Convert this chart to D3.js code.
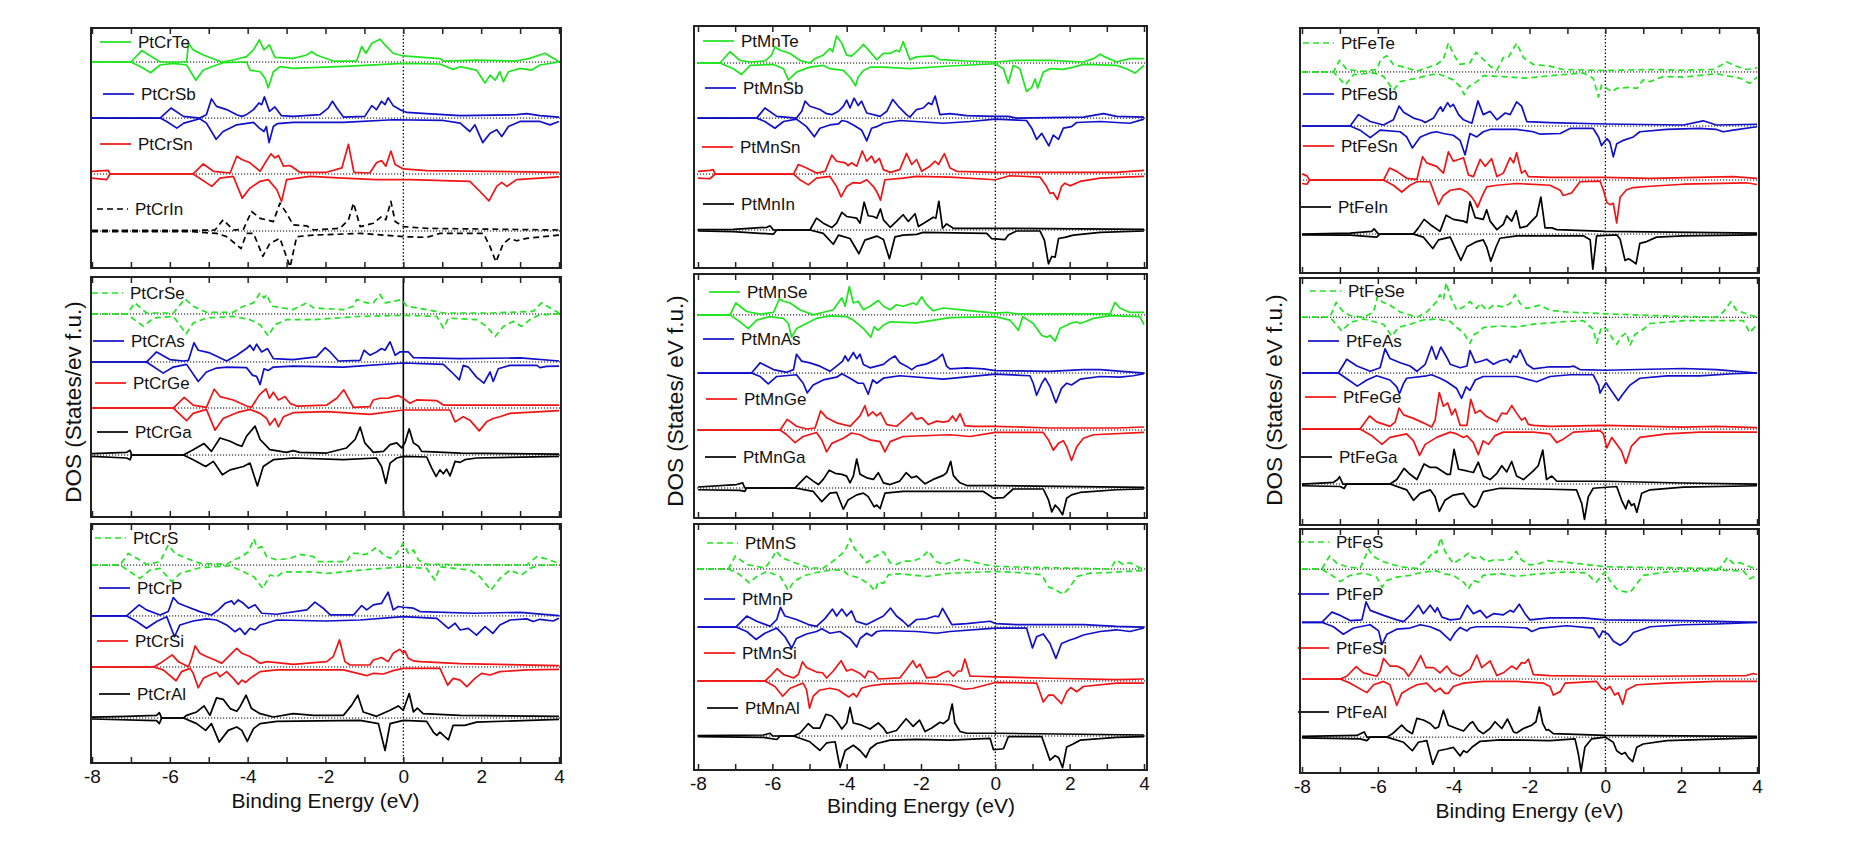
<!DOCTYPE html>
<html>
<head>
<meta charset="utf-8">
<script src="https://cdn.jsdelivr.net/npm/d3@7"></script>
<style>
  body { margin: 0; background: #fff; }
  svg text { font-family: Arial, "Liberation Sans", sans-serif; fill: #111; }
</style>
</head>
<body>
<div id="chart"></div>
<script>
// Spin-resolved DOS, [energy (eV), DOS] pairs; spin down stored as negative values

// ---- PtCr column ----
const ptCrTeUp = [[-8,0],[-7,0],[-6.72,0.81],[-6.25,0],[-5.57,0],[-5.52,1.33],[-5.40,0.86],[-5.14,0.5],[-4.80,0.14],[-4.67,0],[-4.37,0.14],[-4.03,0.38],[-3.85,0.86],[-3.70,1.57],[-3.58,0.86],[-3.44,1.21],[-3.30,0.33],[-2.83,0.26],[-2.48,0.5],[-2.36,0.74],[-2.23,0.5],[-1.80,0.07],[-1.20,0.07],[-1.07,1.1],[-0.96,0.62],[-0.81,1.33],[-0.60,1.62],[-0.47,1.21],[-0.26,0.62],[0,0.43],[0.94,0.24],[1.03,0.07],[1.88,0.14],[2.91,0.07],[3.25,0.26],[3.64,0.62],[4,0.02]];
const ptCrTeDn = [[-8,0],[-7,0],[-6.75,-0.33],[-6.49,-0.76],[-6.25,-0.21],[-5.91,-0.1],[-5.57,-0.21],[-5.33,-1.29],[-5.14,-0.57],[-4.80,-0.21],[-4.63,-0.05],[-4.03,0],[-3.94,-0.57],[-3.68,-0.69],[-3.55,-1.17],[-3.47,-1.83],[-3.34,-0.69],[-3.17,-0.33],[-2.83,-0.45],[-1.37,-0.29],[0,-0.1],[0.94,-0.14],[1.28,-0.52],[1.46,-0.33],[1.88,-0.57],[2.10,-1.48],[2.23,-0.93],[2.36,-1.29],[2.48,-0.69],[2.57,-1.4],[2.70,-0.69],[3.0,-0.45],[3.30,-0.57],[3.51,-0.21],[4,0]];
const ptCrSbUp = [[-8,0],[-6.25,0],[-5.97,0.71],[-5.65,0.12],[-5.23,0],[-5.06,0.24],[-4.93,1.36],[-4.80,0.83],[-4.54,0.6],[-4.28,0.24],[-4.15,0.12],[-4.03,0.24],[-3.85,0.6],[-3.71,1.07],[-3.64,0.95],[-3.57,1.5],[-3.44,0.48],[-3.30,0.79],[-3.13,0.17],[-2.83,0.12],[-2.14,0.24],[-1.93,0.71],[-1.82,1.19],[-1.71,0.71],[-1.54,0.07],[-0.99,0.12],[-0.81,0.88],[-0.69,0.6],[-0.56,1.19],[-0.47,0.95],[-0.39,1.43],[-0.26,0.88],[-0.09,0.6],[0.09,0.4],[0.6,0.31],[1.46,0.17],[2.91,0.24],[3.17,0.31],[3.51,0.17],[4,0.07]];
const ptCrSbDn = [[-8,0],[-6.25,0],[-6.08,-0.24],[-5.82,-0.71],[-5.64,-0.36],[-5.23,-0.05],[-5.06,-0.36],[-4.81,-1.5],[-4.63,-0.95],[-4.28,-0.48],[-3.85,-0.31],[-3.70,-0.71],[-3.58,-0.95],[-3.52,-0.6],[-3.45,-1.74],[-3.34,-0.6],[-3.24,-0.4],[-2.83,-0.31],[-1.54,-0.31],[-0.26,-0.12],[1.03,-0.17],[1.46,-0.36],[1.71,-0.95],[1.84,-0.48],[2.04,-1.74],[2.23,-1.07],[2.40,-0.83],[2.53,-1.31],[2.70,-0.6],[3.0,-0.24],[3.51,-0.24],[3.77,-0.48],[4,-0.24]];
const ptCrSnUp = [[-8,0.19],[-7.58,0.26],[-7.54,0],[-5.40,0],[-5.14,0.71],[-4.88,0.19],[-4.45,0.07],[-4.28,1.26],[-4.15,1.02],[-3.94,0.79],[-3.68,0.19],[-3.55,0.79],[-3.40,1.43],[-3.30,1.14],[-3.21,1.31],[-3.08,0.55],[-2.91,0.6],[-2.66,0.12],[-1.97,0.12],[-1.58,0.43],[-1.41,2.1],[-1.27,0.12],[-0.86,0.07],[-0.69,0.79],[-0.56,0.95],[-0.45,0.55],[-0.32,1.62],[-0.21,0.67],[0,0.36],[0.6,0.24],[4,0.12]];
const ptCrSnDn = [[-8,-0.29],[-7.62,-0.4],[-7.54,0],[-5.40,0],[-4.92,-0.88],[-4.71,-0.29],[-4.37,-0.17],[-4.14,-1.71],[-3.94,-1.0],[-3.68,-0.52],[-3.47,-0.4],[-3.25,-1.12],[-3.13,-1.95],[-3.0,-0.4],[-2.40,-0.17],[-1.54,-0.29],[-0.69,-0.4],[0.17,-0.4],[1.71,-0.52],[1.97,-1.24],[2.2,-1.9],[2.40,-0.88],[2.53,-0.6],[2.66,-0.88],[2.91,-0.4],[4,-0.21]];
const ptCrInUp = [[-8,0.05],[-5.4,0.05],[-4.84,0.07],[-4.63,0.79],[-4.37,0.07],[-4.11,0.12],[-3.90,1.38],[-3.68,0.9],[-3.34,0.67],[-3.17,1.98],[-3.0,1.26],[-2.83,0.43],[-2.48,0.36],[-2.31,0.07],[-1.63,0.19],[-1.41,0.79],[-1.28,1.98],[-1.11,0.31],[-0.77,0.55],[-0.56,1.02],[-0.45,0.79],[-0.32,2.1],[-0.21,0.67],[0,0.31],[0.6,0.19],[4,0.07]];
const ptCrInDn = [[-8,-0.05],[-5.4,-0.05],[-4.8,-0.17],[-4.54,-0.4],[-4.17,-1.24],[-4.03,-0.17],[-3.85,-0.17],[-3.61,-1.79],[-3.43,-0.88],[-3.17,-0.52],[-2.91,-2.55],[-2.74,-0.4],[-2.31,-0.29],[-1.11,-0.17],[0,-0.4],[0.6,-0.45],[0.94,-0.17],[2.06,-0.17],[2.23,-1.12],[2.38,-2.19],[2.57,-0.88],[2.74,-0.52],[2.91,-0.69],[3.17,-0.52],[4,-0.29]];

const ptCrSeUp = [[-8,0],[-7.1,0],[-6.9,0.79],[-6.6,0.07],[-5.91,0.07],[-5.61,1.07],[-5.40,0.55],[-5.06,0.12],[-4.37,0.12],[-4.15,0.5],[-3.85,0.79],[-3.68,1.5],[-3.58,1.14],[-3.51,1.38],[-3.38,0.55],[-2.83,0.31],[-2.48,0.79],[-2.31,0.43],[-1.54,0.31],[-1.28,0.55],[-1.2,1.02],[-0.94,0.79],[-0.77,0.79],[-0.6,1.38],[-0.47,0.79],[-0.26,0.9],[-0.04,1.02],[0.09,0.55],[0.6,0.31],[1.03,0.07],[2.31,0.07],[3.34,0.19],[3.55,0.79],[3.77,0.43],[4,0.07]];
const ptCrSeDn = [[-8,0],[-7.1,0],[-6.68,-0.88],[-6.42,-0.29],[-5.91,-0.17],[-5.58,-1.4],[-5.40,-0.64],[-5.06,-0.29],[-4.37,-0.17],[-3.94,-0.4],[-3.68,-0.76],[-3.47,-1.55],[-3.30,-0.76],[-3.0,-0.4],[-2.31,-0.4],[-1.11,-0.17],[0,-0.1],[0.86,-0.17],[1.03,-1.0],[1.16,-0.29],[1.88,-0.4],[2.14,-0.88],[2.36,-1.6],[2.57,-0.88],[2.83,-0.52],[3.04,-0.88],[3.25,-0.4],[3.51,-0.05],[4,0]];
const ptCrAsUp = [[-8,0],[-6.6,0],[-6.34,0.71],[-6.0,0.17],[-5.65,0.07],[-5.52,0.12],[-5.38,1.36],[-5.27,0.83],[-4.97,0.64],[-4.54,0.07],[-4.28,0.48],[-4.03,0.95],[-3.94,1.19],[-3.85,0.83],[-3.77,1.26],[-3.64,0.71],[-3.49,0.95],[-3.34,0.24],[-2.83,0.17],[-2.23,0.36],[-2.01,1.02],[-1.88,0.71],[-1.67,0.07],[-1.11,0.12],[-1.01,0.83],[-0.86,0.48],[-0.69,0.71],[-0.56,0.95],[-0.47,0.83],[-0.34,1.43],[-0.21,0.48],[-0.09,0.71],[0.13,0.71],[0.26,0.31],[1.46,0.24],[3.0,0.29],[4,0.07]];
const ptCrAsDn = [[-8,0],[-6.6,0],[-6.17,-0.79],[-5.91,-0.36],[-5.57,-0.17],[-5.27,-1.38],[-5.06,-0.71],[-4.8,-0.43],[-4.54,-0.36],[-4.03,-0.4],[-3.87,-0.95],[-3.77,-1.02],[-3.68,-1.6],[-3.58,-0.48],[-3.47,-0.6],[-3.34,-0.36],[-2.83,-0.29],[-1.54,-0.36],[0,-0.07],[1.03,-0.17],[1.24,-0.71],[1.44,-1.26],[1.54,-0.24],[1.67,-0.36],[1.88,-1.07],[2.07,-1.5],[2.23,-0.71],[2.31,-1.38],[2.44,-0.48],[2.74,-0.24],[3.43,-0.24],[3.51,-0.4],[3.68,-0.31],[4,-0.29]];
const ptCrGeUp = [[-8,0],[-5.91,0],[-5.63,0.76],[-5.40,0.21],[-5.06,0.05],[-4.86,1.33],[-4.71,0.81],[-4.37,0.57],[-4.03,0.14],[-3.90,0.05],[-3.70,0.93],[-3.53,1.36],[-3.44,0.69],[-3.34,1.12],[-3.21,0.57],[-3.04,0.81],[-2.91,0.33],[-2.74,0.14],[-1.97,0.21],[-1.71,0.69],[-1.53,1.29],[-1.28,0.05],[-0.86,0.1],[-0.77,0.57],[-0.6,0.69],[-0.39,0.69],[-0.26,0.81],[-0.13,0.88],[0,0.69],[0.17,0.33],[0.34,0.57],[0.86,0.52],[1.03,0.21],[4,0.21]];
const ptCrGeDn = [[-8,0],[-5.91,0],[-5.57,-0.9],[-5.40,-0.38],[-5.06,-0.1],[-4.84,-1.57],[-4.63,-0.74],[-4.28,-0.33],[-3.94,-0.1],[-3.68,-0.38],[-3.51,-0.74],[-3.43,-1.21],[-3.30,-0.74],[-3.21,-1.33],[-3.08,-0.62],[-2.83,-0.33],[-1.97,-0.26],[-0.86,-0.45],[0,-0.14],[1.2,-0.14],[1.33,-0.98],[1.54,-0.62],[1.71,-0.86],[1.95,-1.62],[2.14,-0.98],[2.31,-0.74],[2.48,-0.62],[2.74,-0.38],[4,-0.19]];
const ptCrGaUp = [[-8,0.1],[-7.11,0.19],[-7.02,0.33],[-6.98,0],[-5.65,0],[-5.40,0.38],[-5.12,0.81],[-4.93,0.26],[-4.71,1.21],[-4.45,0.98],[-4.28,0.74],[-4.15,0.62],[-4.03,1.33],[-3.81,2.05],[-3.68,1.1],[-3.43,0.38],[-3.0,0.19],[-2.83,0.31],[-2.66,0.19],[-1.97,0.14],[-1.46,0.5],[-1.24,1.1],[-1.11,1.98],[-0.99,0.86],[-0.77,0.19],[-0.51,0.26],[-0.34,0.74],[-0.17,0.86],[-0.04,0.5],[0.04,0.86],[0.15,1.86],[0.26,0.86],[0.39,0.62],[0.47,0.26],[1.46,0.14],[4,0.07]];
const ptCrGaDn = [[-8,-0.1],[-7.11,-0.21],[-7.02,-0.33],[-6.98,0],[-5.65,0],[-5.40,-0.33],[-5.08,-0.81],[-4.88,-0.45],[-4.65,-1.4],[-4.45,-1.05],[-4.11,-0.81],[-3.94,-0.57],[-3.75,-2.19],[-3.60,-0.81],[-3.34,-0.33],[-2.83,-0.21],[-1.54,-0.33],[-0.69,-0.21],[-0.56,-0.81],[-0.45,-2.0],[-0.34,-0.57],[-0.17,-0.21],[0,-0.1],[0.6,-0.14],[0.73,-0.93],[0.84,-1.52],[0.94,-1.05],[1.03,-1.33],[1.11,-1.0],[1.2,-1.48],[1.33,-0.45],[1.46,-0.52],[1.58,-0.33],[1.88,-0.21],[4,-0.1]];

const ptCrSUp = [[-8,0],[-7.28,0],[-7.07,0.83],[-6.85,0.48],[-6.6,0.05],[-6.25,0.24],[-6.04,1.43],[-5.87,0.83],[-5.57,0.48],[-5.23,0.12],[-4.54,0.05],[-4.37,0.36],[-4.15,0.6],[-3.98,0.95],[-3.84,1.86],[-3.75,1.19],[-3.64,1.31],[-3.51,0.6],[-3.25,0.36],[-2.91,0.48],[-2.66,0.76],[-2.31,0.6],[-2.18,0.24],[-1.46,0.24],[-1.33,0.83],[-1.16,0.83],[-1.07,0.71],[-0.9,0.83],[-0.69,1.26],[-0.51,0.71],[-0.34,0.48],[-0.17,0.83],[0,1.55],[0.13,0.83],[0.26,1.07],[0.39,0.36],[0.6,0.05],[3.17,0],[3.43,0.6],[3.68,0.43],[4,0.12]];
const ptCrSDn = [[-8,0],[-7.28,0],[-6.77,-0.95],[-6.51,-0.36],[-6.25,-0.24],[-5.95,-1.19],[-5.74,-0.6],[-5.23,-0.19],[-4.45,-0.05],[-4.11,-0.48],[-3.84,-0.83],[-3.61,-1.67],[-3.43,-0.71],[-3.25,-0.83],[-3.08,-0.48],[-2.40,-0.48],[-1.97,-0.6],[-1.11,-0.36],[0,-0.12],[0.6,-0.24],[0.81,-1.07],[0.94,-0.12],[1.71,-0.36],[1.97,-0.83],[2.25,-1.79],[2.48,-0.95],[2.74,-0.36],[3.04,-0.71],[3.25,-0.24],[3.51,0],[4,0]];
const ptCrPUp = [[-8,0],[-7.11,0],[-6.79,0.79],[-6.6,0.43],[-6.25,0.07],[-6.04,0.31],[-5.91,1.31],[-5.78,0.9],[-5.57,0.67],[-5.23,0.31],[-4.93,0.07],[-4.75,0.43],[-4.58,0.9],[-4.41,1.07],[-4.35,0.83],[-4.24,1.14],[-4.11,0.9],[-3.98,0.55],[-3.81,0.79],[-3.64,0.19],[-3.25,0.12],[-2.48,0.43],[-2.27,0.98],[-2.06,0.55],[-1.88,0.07],[-1.28,0.07],[-1.07,0.74],[-0.94,0.43],[-0.77,0.79],[-0.56,0.9],[-0.39,1.69],[-0.26,0.43],[-0.13,0.67],[0,0.62],[0.26,0.55],[0.43,0.31],[1.8,0.19],[3.0,0.26],[4,0.02]];
const ptCrPDn = [[-8,0],[-7.11,0],[-6.85,-0.4],[-6.6,-0.88],[-6.34,-0.4],[-6.08,-0.05],[-5.88,-1.48],[-5.74,-0.64],[-5.40,-0.36],[-5.06,-0.21],[-4.80,-0.29],[-4.54,-0.64],[-4.33,-1.12],[-4.20,-0.88],[-4.07,-1.31],[-3.94,-0.88],[-3.81,-1.0],[-3.68,-0.64],[-3.25,-0.29],[-1.97,-0.36],[-1.11,-0.29],[0,-0.05],[0.86,-0.17],[1.16,-0.88],[1.33,-0.52],[1.46,-1.0],[1.67,-0.88],[1.88,-1.36],[2.10,-0.76],[2.30,-1.24],[2.48,-0.64],[2.74,-0.29],[3.17,-0.21],[3.34,-0.4],[3.51,-0.24],[3.85,-0.36],[4,-0.17]];
const ptCrSiUp = [[-8,0],[-6.42,0],[-6.25,0.26],[-5.94,0.86],[-5.78,0.38],[-5.52,0.02],[-5.44,0.62],[-5.35,1.5],[-5.23,0.98],[-5.06,0.74],[-4.84,0.5],[-4.67,0.26],[-4.45,0.86],[-4.28,1.33],[-4.15,0.98],[-3.94,0.74],[-3.68,0.26],[-3.51,0.38],[-3.25,0.31],[-2.83,0.19],[-1.97,0.38],[-1.80,0.74],[-1.64,1.93],[-1.50,0.38],[-1.37,0.14],[-0.86,0.14],[-0.77,0.5],[-0.56,0.67],[-0.39,0.38],[-0.26,0.98],[-0.09,1.26],[0,0.98],[0.04,1.14],[0.13,0.62],[0.26,0.43],[0.43,0.38],[1.46,0.24],[4,0.1]];
const ptCrSiDn = [[-8,0],[-6.42,0],[-6.17,-0.21],[-5.84,-0.98],[-5.70,-0.33],[-5.48,-0.1],[-5.40,-0.45],[-5.27,-1.48],[-5.14,-0.81],[-4.97,-0.57],[-4.80,-0.38],[-4.71,-0.69],[-4.54,-0.33],[-4.37,-0.81],[-4.24,-1.24],[-4.15,-0.93],[-4.05,-1.1],[-3.94,-0.81],[-3.68,-0.33],[-3.25,-0.21],[-1.54,-0.21],[-0.94,-0.62],[-0.77,-0.45],[-0.51,-0.5],[-0.26,-0.26],[0,-0.1],[0.94,-0.1],[1.14,-1.29],[1.28,-0.81],[1.46,-0.93],[1.63,-1.4],[1.84,-0.81],[2.01,-0.45],[2.23,-0.57],[2.48,-0.33],[3.17,-0.21],[4,-0.17]];
const ptCrAlUp = [[-8,0.07],[-7.11,0.12],[-6.34,0.19],[-6.27,0.38],[-6.21,0],[-5.65,0],[-5.57,0.19],[-5.31,0.43],[-5.12,0.86],[-4.97,0.19],[-4.80,1.43],[-4.63,1.33],[-4.45,0.67],[-4.28,0.48],[-4.20,0.79],[-4.04,1.62],[-3.90,0.67],[-3.68,0.31],[-3.34,0.07],[-2.83,0.31],[-2.31,0.19],[-1.54,0.19],[-1.33,0.9],[-1.17,1.62],[-1.03,0.43],[-0.69,0.12],[-0.34,0.55],[-0.13,0.86],[0,0.55],[0.15,1.74],[0.26,0.43],[0.36,0.71],[0.51,0.31],[1.46,0.19],[4,0.12]];
const ptCrAlDn = [[-8,-0.07],[-6.34,-0.19],[-6.27,-0.4],[-6.21,0],[-5.65,0],[-5.31,-0.4],[-5.08,-0.88],[-4.93,-0.4],[-4.73,-1.71],[-4.50,-0.88],[-4.28,-0.64],[-4.15,-0.88],[-4.01,-1.67],[-3.85,-0.76],[-3.68,-0.4],[-3.25,-0.24],[-1.11,-0.17],[-0.64,-0.4],[-0.47,-2.31],[-0.34,-0.4],[0,-0.17],[0.6,-0.24],[0.77,-1.0],[0.86,-1.24],[0.94,-1.0],[1.03,-1.24],[1.16,-1.55],[1.28,-0.52],[1.58,-0.52],[1.88,-0.29],[4,-0.1]];

// ---- PtMn column ----
const ptMnTeUp = [[-8,0],[-7.41,0],[-7.14,0.79],[-6.87,0.19],[-6.60,0.07],[-6.20,0.14],[-6.02,0.55],[-5.93,1.14],[-5.79,0.9],[-5.52,0.67],[-5.26,0.19],[-4.99,0],[-4.85,0.31],[-4.63,0.55],[-4.45,1.02],[-4.38,0.79],[-4.27,1.9],[-4.13,1.38],[-4.0,0.55],[-3.87,0.48],[-3.69,0.9],[-3.55,1.31],[-3.37,0.79],[-3.19,0.24],[-3.01,0.67],[-2.83,0.67],[-2.66,0.9],[-2.58,0.79],[-2.48,1.5],[-2.30,0.24],[-2.12,0.43],[-1.67,0.5],[-1.49,0.24],[-0.77,0.14],[0,0.07],[0.57,0.19],[1.47,0.19],[2.37,0.07],[2.64,0.31],[2.82,0.62],[2.95,0.43],[3.26,0.07],[3.62,0.31],[4,0.31]];
const ptMnTeDn = [[-8,0],[-7.41,0],[-7.05,-0.4],[-6.83,-0.81],[-6.60,-0.17],[-5.97,-0.1],[-5.70,-0.4],[-5.57,-1.19],[-5.35,-0.64],[-4.99,-0.29],[-4.63,-0.17],[-4.45,-0.4],[-4.09,-0.52],[-3.91,-1.0],[-3.76,-1.6],[-3.69,-1.0],[-3.55,-0.52],[-3.37,-0.29],[-3.01,-0.29],[-2.30,-0.4],[-1.22,-0.21],[0,-0.05],[0.22,-0.4],[0.35,-1.43],[0.48,-0.17],[0.66,-0.4],[0.84,-2.0],[0.98,-1.71],[1.07,-1.12],[1.14,-1.76],[1.29,-0.64],[1.47,-0.4],[1.83,-0.45],[2.10,-0.29],[2.37,-0.1],[3.26,-0.17],[3.53,-0.4],[3.76,-0.71],[4,-0.17]];
const ptMnSbUp = [[-8,0],[-6.42,0],[-6.20,0.71],[-5.88,0.12],[-5.35,0],[-5.21,0.48],[-5.12,1.19],[-4.99,0.83],[-4.72,0.6],[-4.54,0.31],[-4.40,0.24],[-4.22,0.48],[-4.09,0.83],[-4.0,1.26],[-3.91,0.71],[-3.80,1.4],[-3.69,0.88],[-3.60,1.19],[-3.46,0.36],[-3.10,0.12],[-2.92,0.48],[-2.76,1.31],[-2.61,0.83],[-2.39,0.24],[-2.30,0.07],[-2.12,0.6],[-1.94,0.71],[-1.80,1.07],[-1.71,0.95],[-1.62,1.55],[-1.49,0.24],[-1.22,0.31],[-0.77,0.17],[0,0.12],[0.35,0.12],[0.57,0],[2.37,0.07],[2.91,0.31],[3.26,0.12],[4,0.07]];
const ptMnSbDn = [[-8,0],[-6.42,0],[-6.20,-0.24],[-5.93,-0.71],[-5.70,-0.24],[-5.35,-0.07],[-5.08,-0.6],[-4.87,-1.31],[-4.72,-0.71],[-4.45,-0.48],[-4.22,-0.4],[-4.13,-0.17],[-4.0,-0.24],[-3.82,-0.48],[-3.60,-0.83],[-3.46,-1.6],[-3.33,-0.71],[-3.19,-0.6],[-3.01,-0.36],[-2.57,-0.17],[-1.40,-0.36],[-0.68,-0.24],[0,-0.07],[0.84,-0.17],[0.98,-0.71],[1.11,-1.5],[1.25,-1.07],[1.44,-1.95],[1.56,-1.19],[1.70,-1.5],[1.83,-0.71],[2.05,-0.6],[2.19,-0.31],[2.82,-0.24],[3.26,-0.31],[3.62,-0.36],[4,-0.07]];
const ptMnSnUp = [[-8,0.19],[-7.68,0.26],[-7.59,0.31],[-7.54,0],[-5.43,0],[-5.30,0.67],[-5.08,0.43],[-4.81,0.07],[-4.58,0.19],[-4.40,1.33],[-4.27,0.9],[-4.04,0.79],[-3.96,0.6],[-3.87,0.79],[-3.73,0.55],[-3.58,1.62],[-3.46,0.9],[-3.33,1.26],[-3.24,0.79],[-3.12,1.1],[-3.01,0.31],[-2.83,0.12],[-2.57,0.31],[-2.39,1.45],[-2.25,0.67],[-2.12,1.02],[-1.98,0.19],[-1.76,0.55],[-1.62,0.9],[-1.53,0.67],[-1.37,1.43],[-1.22,0.43],[-1.04,0.19],[0,0.12],[3.26,0.12],[4,0.26]];
const ptMnSnDn = [[-8,-0.29],[-7.68,-0.33],[-7.54,0],[-5.43,0],[-5.26,-0.4],[-5.03,-0.76],[-4.81,-0.29],[-4.45,-0.17],[-4.27,-0.88],[-4.15,-1.6],[-4.0,-0.88],[-3.82,-0.6],[-3.64,-0.64],[-3.46,-0.4],[-3.28,-0.88],[-3.19,-1.24],[-3.09,-1.83],[-2.97,-0.4],[-2.48,-0.29],[-2.12,-0.17],[-1.22,-0.21],[0,-0.4],[0.39,-0.12],[1.20,-0.21],[1.38,-0.88],[1.47,-1.36],[1.56,-1.31],[1.67,-1.79],[1.78,-0.88],[1.87,-0.64],[2.01,-0.83],[2.28,-0.52],[2.82,-0.29],[4,-0.17]];
const ptMnInUp = [[-8,0.02],[-7.05,0.05],[-6.15,0.19],[-6.06,0.29],[-5.97,0],[-4.99,0],[-4.81,0.83],[-4.63,0.48],[-4.40,0.17],[-4.27,0.48],[-4.13,1.24],[-4.0,0.95],[-3.73,0.83],[-3.64,0.48],[-3.53,1.95],[-3.42,1.0],[-3.28,0.95],[-3.19,0.83],[-3.09,1.48],[-3.01,0.71],[-2.83,0.19],[-2.66,0.6],[-2.48,1.07],[-2.34,0.6],[-2.16,1.14],[-2.07,0.24],[-1.85,0.6],[-1.67,0.9],[-1.60,0.83],[-1.52,2.02],[-1.42,0.12],[-1.31,0.43],[-1.13,0.12],[0,0.12],[4,0.05]];
const ptMnInDn = [[-8,-0.07],[-7.05,-0.12],[-5.97,-0.29],[-5.88,0],[-4.99,0],[-4.63,-0.24],[-4.36,-1.0],[-4.22,-0.36],[-3.91,-0.6],[-3.67,-1.67],[-3.51,-0.71],[-3.19,-0.43],[-3.01,-0.67],[-2.85,-2.02],[-2.70,-0.48],[-2.48,-0.36],[-2.12,-0.31],[-1.94,-0.17],[-0.23,-0.24],[-0.10,-0.6],[0.26,-0.67],[0.35,-0.36],[0.57,-0.07],[1.20,-0.07],[1.32,-0.71],[1.43,-2.38],[1.52,-1.86],[1.61,-1.9],[1.70,-0.6],[1.87,-0.52],[2.10,-0.36],[2.82,-0.17],[4,-0.07]];

const ptMnSeUp = [[-8,0],[-7.14,0],[-6.98,0.83],[-6.69,0.24],[-6.33,0.05],[-5.97,0.17],[-5.81,1.12],[-5.70,0.95],[-5.52,0.83],[-5.26,0.36],[-4.90,0],[-4.54,0.24],[-4.36,0.36],[-4.13,1.19],[-4.04,0.6],[-3.93,1.98],[-3.82,0.83],[-3.69,0.95],[-3.55,0.36],[-3.37,0.6],[-3.15,1.0],[-3.01,0.6],[-2.83,0.36],[-2.66,0.71],[-2.48,0.6],[-2.21,0.83],[-2.12,0.71],[-1.98,1.26],[-1.85,0.71],[-1.67,0.29],[-1.40,0.48],[-0.77,0.31],[0,0.12],[0.35,0.17],[0.57,0.07],[3.09,0.07],[3.22,0.88],[3.35,0.48],[3.62,0.17],[4,0.17]];
const ptMnSeDn = [[-8,0],[-7.14,0],[-6.87,-0.48],[-6.65,-0.95],[-6.42,-0.36],[-6.06,-0.12],[-5.70,-0.24],[-5.57,-0.6],[-5.48,-1.55],[-5.35,-0.95],[-5.08,-0.6],[-4.81,-0.24],[-4.45,-0.07],[-4.0,-0.12],[-3.82,-0.36],[-3.55,-0.95],[-3.35,-1.55],[-3.26,-0.83],[-3.15,-1.07],[-3.01,-0.71],[-2.83,-0.48],[-2.12,-0.55],[-1.22,-0.19],[0,-0.12],[0.39,-0.36],[0.62,-1.07],[0.74,-0.12],[1.02,-0.6],[1.25,-1.43],[1.38,-1.55],[1.47,-1.43],[1.61,-1.83],[1.74,-0.95],[2.01,-0.6],[2.19,-0.48],[2.28,-0.6],[2.41,-0.48],[2.64,-0.24],[3.09,-0.05],[3.89,-0.12],[4,-0.67]];
const ptMnAsUp = [[-8,0],[-6.56,0],[-6.33,0.71],[-5.97,0.24],[-5.61,0.05],[-5.43,0.24],[-5.35,1.31],[-5.21,0.83],[-4.99,0.71],[-4.72,0.48],[-4.45,0.12],[-4.27,0.48],[-4.11,0.83],[-4.04,1.19],[-3.96,0.83],[-3.82,1.43],[-3.73,1.0],[-3.64,1.31],[-3.55,0.6],[-3.37,0.36],[-3.01,0.6],[-2.85,0.95],[-2.70,1.19],[-2.57,0.71],[-2.39,0.48],[-2.25,0.24],[-2.12,0.48],[-1.85,0.64],[-1.58,0.95],[-1.42,1.31],[-1.31,0.48],[-1.22,0.29],[-0.77,0.36],[-0.32,0.29],[0,0.17],[1.47,0.12],[2.37,0.24],[2.82,0.24],[4,0]];
const ptMnAsDn = [[-8,0],[-6.56,0],[-6.33,-0.24],[-6.11,-0.76],[-5.88,-0.24],[-5.35,-0.12],[-5.17,-0.71],[-5.06,-1.38],[-4.90,-0.83],[-4.63,-0.48],[-4.27,-0.29],[-4.13,-0.05],[-3.91,-0.36],[-3.69,-0.71],[-3.55,-0.71],[-3.42,-1.48],[-3.30,-0.48],[-3.19,-0.71],[-3.01,-0.36],[-2.57,-0.19],[-1.40,-0.43],[0,-0.07],[0.93,-0.19],[1.02,-0.71],[1.11,-1.55],[1.25,-0.71],[1.34,-0.36],[1.47,-0.95],[1.63,-2.07],[1.78,-1.07],[1.92,-0.71],[2.05,-0.83],[2.28,-0.43],[2.82,-0.24],[3.35,-0.29],[3.71,-0.19],[4,-0.05]];
const ptMnGeUp = [[-8,0],[-5.79,0],[-5.60,0.74],[-5.35,0.26],[-5.08,0.07],[-4.85,0.14],[-4.70,1.33],[-4.54,0.86],[-4.27,0.5],[-3.91,0.26],[-3.64,0.98],[-3.51,1.69],[-3.42,0.98],[-3.30,1.26],[-3.19,0.98],[-3.09,1.21],[-2.92,0.38],[-2.66,0.26],[-2.39,0.86],[-2.25,1.21],[-2.12,0.74],[-1.98,0.86],[-1.80,0.38],[-1.58,0.62],[-1.40,0.55],[-1.26,0.62],[-1.15,0.98],[-1.06,0.62],[-0.95,1.14],[-0.82,0.31],[-0.59,0.26],[0,0.26],[1.47,0.14],[3.26,0.14],[4,0.21]];
const ptMnGeDn = [[-8,0],[-5.79,0],[-5.61,-0.33],[-5.39,-0.88],[-5.17,-0.45],[-4.81,-0.17],[-4.67,-0.69],[-4.54,-1.52],[-4.40,-0.93],[-4.09,-0.57],[-3.87,-0.21],[-3.64,-0.33],[-3.37,-0.69],[-3.10,-0.81],[-2.97,-1.52],[-2.83,-0.81],[-2.48,-0.45],[-1.22,-0.33],[-0.68,-0.45],[0,-0.17],[1.29,-0.17],[1.43,-0.69],[1.56,-1.4],[1.70,-0.93],[1.83,-0.74],[1.92,-1.17],[2.05,-2.12],[2.19,-1.17],[2.37,-0.57],[2.64,-0.33],[4,-0.17]];
const ptMnGaUp = [[-8,0.07],[-6.96,0.24],[-6.80,0.36],[-6.74,0],[-5.39,0],[-5.26,0.36],[-5.08,0.83],[-4.90,0.48],[-4.76,0.24],[-4.63,0.6],[-4.47,1.24],[-4.31,1.02],[-4.13,0.95],[-4.0,0.83],[-3.91,0.36],[-3.82,0.83],[-3.73,2.02],[-3.64,0.95],[-3.46,0.71],[-3.28,0.6],[-3.15,1.07],[-3.01,0.36],[-2.83,0.24],[-2.57,0.48],[-2.40,1.07],[-2.25,0.71],[-2.12,0.83],[-1.89,0.29],[-1.67,0.6],[-1.40,0.88],[-1.31,1.07],[-1.20,1.86],[-1.13,0.88],[-1.04,0.6],[-0.95,0.36],[-0.77,0.17],[0,0.17],[4,0.05]];
const ptMnGaDn = [[-8,-0.12],[-6.87,-0.17],[-6.74,-0.24],[-6.69,0],[-5.39,0],[-4.90,-0.24],[-4.67,-0.95],[-4.45,-0.36],[-4.27,-0.31],[-4.09,-1.48],[-3.96,-0.83],[-3.73,-0.48],[-3.55,-0.36],[-3.42,-0.6],[-3.26,-1.31],[-3.19,-1.19],[-3.10,-1.43],[-2.97,-0.36],[-2.48,-0.24],[-0.32,-0.24],[-0.05,-0.71],[0.22,-0.67],[0.48,-0.07],[1.29,-0.07],[1.43,-0.83],[1.52,-1.67],[1.61,-1.19],[1.70,-1.43],[1.81,-1.86],[1.92,-0.71],[2.05,-0.48],[2.28,-0.31],[3.26,-0.12],[4,-0.07]];

const ptMnSUp = [[-8,0],[-7.18,0],[-7.0,0.9],[-6.69,0.31],[-6.20,0.07],[-6.02,0.67],[-5.90,1.26],[-5.75,0.79],[-5.52,0.55],[-5.26,0.31],[-4.99,0.07],[-4.63,0.07],[-4.36,0.55],[-4.09,1.14],[-4.0,1.5],[-3.91,2.1],[-3.78,1.38],[-3.64,1.02],[-3.46,0.43],[-3.28,0.79],[-3.01,1.19],[-2.83,0.43],[-2.66,0.31],[-2.48,0.55],[-2.21,0.55],[-1.98,0.79],[-1.80,1.26],[-1.62,0.55],[-1.40,0.31],[-0.95,0.67],[-0.68,0.55],[-0.32,0.31],[0,0.19],[0.57,0.14],[3.09,0],[3.25,0.62],[3.44,0.31],[3.62,0.43],[4,-0.05]];
const ptMnSDn = [[-8,0],[-7.18,0],[-6.87,-0.4],[-6.62,-0.95],[-6.42,-0.52],[-6.15,-0.17],[-5.79,-0.52],[-5.57,-1.48],[-5.43,-0.88],[-5.17,-0.48],[-4.81,-0.24],[-4.36,-0.05],[-4.09,-0.1],[-3.96,-0.4],[-3.64,-0.64],[-3.37,-1.12],[-3.24,-1.52],[-3.15,-0.88],[-3.01,-1.0],[-2.88,-0.4],[-2.57,-0.33],[-1.85,-0.52],[-1.22,-0.29],[0,-0.17],[0.57,-0.24],[1.25,-0.4],[1.43,-1.24],[1.56,-1.36],[1.83,-1.76],[2.01,-1.24],[2.19,-0.52],[2.55,-0.29],[3.09,-0.24],[3.53,-0.17],[4,-0.1]];
const ptMnPUp = [[-8,0],[-6.98,0],[-6.69,0.76],[-6.42,0.4],[-6.06,0.05],[-5.88,0.52],[-5.78,1.36],[-5.66,0.76],[-5.35,0.52],[-5.03,0.17],[-4.81,0.05],[-4.58,0.6],[-4.38,1.24],[-4.27,0.76],[-4.13,1.24],[-4.0,0.76],[-3.87,1.12],[-3.75,0.4],[-3.46,0.17],[-3.01,0.76],[-2.82,1.31],[-2.66,0.76],[-2.48,0.4],[-2.34,0.05],[-2.12,0.52],[-1.85,0.57],[-1.62,0.76],[-1.53,0.71],[-1.42,1.29],[-1.26,0.57],[-1.17,0.17],[-0.77,0.24],[-0.14,0.4],[0,0.24],[0.57,0.17],[2.37,0.17],[3.26,0.05],[4,0]];
const ptMnPDn = [[-8,0],[-6.98,0],[-6.69,-0.31],[-6.44,-0.86],[-6.20,-0.43],[-5.88,-0.07],[-5.66,-0.67],[-5.48,-1.45],[-5.35,-0.79],[-5.08,-0.48],[-4.81,-0.31],[-4.67,-0.12],[-4.45,-0.43],[-4.18,-0.31],[-3.91,-0.79],[-3.73,-1.38],[-3.64,-0.79],[-3.46,-0.43],[-3.33,-0.62],[-3.19,-0.31],[-3.01,-0.24],[-2.12,-0.31],[-1.58,-0.43],[-1.22,-0.31],[0,-0.07],[0.84,-0.07],[1.0,-1.45],[1.11,-0.67],[1.29,-0.48],[1.47,-1.14],[1.63,-2.17],[1.78,-1.14],[2.01,-0.9],[2.14,-0.79],[2.37,-0.55],[2.82,-0.31],[3.26,-0.19],[3.62,-0.31],[4,-0.07]];
const ptMnSiUp = [[-8,0],[-6.20,0],[-6.06,0.33],[-5.87,0.86],[-5.70,0.45],[-5.43,0.21],[-5.30,0.45],[-5.19,1.33],[-5.08,0.93],[-4.81,0.62],[-4.65,0.57],[-4.54,0.21],[-4.36,0.69],[-4.15,1.4],[-4.0,0.69],[-3.87,0.81],[-3.64,0.52],[-3.51,0.21],[-3.42,0.69],[-3.28,0.57],[-3.15,0.14],[-2.57,0.21],[-2.39,0.81],[-2.22,1.4],[-2.12,0.93],[-2.03,1.17],[-1.85,0.21],[-1.58,0.29],[-1.40,0.57],[-1.26,0.69],[-1.13,0.33],[-1.0,0.69],[-0.91,0.69],[-0.82,1.52],[-0.68,0.33],[-0.50,0.33],[0,0.29],[1.47,0.19],[3.26,0.1],[4,0.14]];
const ptMnSiDn = [[-8,0],[-6.20,0],[-5.93,-0.38],[-5.72,-1.05],[-5.52,-0.5],[-5.17,-0.14],[-5.08,-0.6],[-5.0,-1.88],[-4.90,-1.05],[-4.72,-0.62],[-4.45,-0.5],[-4.22,-0.62],[-4.09,-0.86],[-3.94,-1.1],[-3.82,-0.86],[-3.73,-1.1],[-3.60,-0.5],[-3.37,-0.33],[-3.01,-0.21],[-2.12,-0.14],[-1.22,-0.26],[-0.82,-0.57],[-0.59,-0.5],[0,-0.1],[1.11,-0.14],[1.29,-1.45],[1.43,-0.98],[1.56,-0.98],[1.78,-1.57],[1.92,-0.74],[2.03,-0.45],[2.19,-0.74],[2.37,-0.38],[3.26,-0.14],[4,-0.14]];
const ptMnAlUp = [[-8,0.02],[-6.24,0.07],[-6.06,0.19],[-5.99,0],[-5.43,0],[-5.26,0.19],[-5.03,0.86],[-4.90,0.55],[-4.72,0.55],[-4.56,1.5],[-4.40,1.38],[-4.27,1.02],[-4.13,0.48],[-4.0,0.9],[-3.91,1.98],[-3.82,0.9],[-3.64,0.79],[-3.37,0.48],[-3.15,0.9],[-3.01,0.55],[-2.92,0.19],[-2.66,0.38],[-2.40,1.19],[-2.21,0.67],[-2.04,1.1],[-1.89,0.31],[-1.71,0.55],[-1.49,0.95],[-1.40,0.86],[-1.26,1.14],[-1.16,2.21],[-1.09,0.9],[-0.95,0.31],[-0.77,0.19],[0,0.19],[4,0.07]];
const ptMnAlDn = [[-8,-0.05],[-6.24,-0.1],[-5.88,-0.24],[-5.79,0],[-5.43,0],[-4.99,-0.4],[-4.72,-1.0],[-4.54,-0.48],[-4.31,-0.4],[-4.18,-2.19],[-4.04,-1.0],[-3.82,-0.64],[-3.64,-1.0],[-3.48,-1.48],[-3.37,-0.88],[-3.19,-0.52],[-2.83,-0.29],[-2.12,-0.24],[-1.22,-0.29],[-0.14,-0.17],[-0.05,-0.95],[0.22,-0.88],[0.35,-0.05],[1.25,-0.05],[1.38,-1.0],[1.47,-1.67],[1.61,-1.36],[1.70,-1.48],[1.81,-2.19],[1.92,-0.76],[2.08,-0.57],[2.28,-0.29],[3.26,-0.1],[4,-0.05]];

// ---- PtFe column ----
const ptFeTeUp = [[-8,0],[-7.17,0],[-7.01,0.81],[-6.82,0.17],[-6.38,0.05],[-6.03,0.17],[-5.92,0.88],[-5.76,1.12],[-5.59,0.52],[-5.24,0.29],[-4.97,0.05],[-4.71,0.29],[-4.45,0.52],[-4.27,0.88],[-4.14,2.02],[-4.01,1.24],[-3.83,0.52],[-3.57,0.64],[-3.41,1.36],[-3.22,0.88],[-3.04,0.4],[-2.86,0.12],[-2.69,1.0],[-2.56,1.0],[-2.34,2.0],[-2.16,1.0],[-1.90,0.52],[-1.46,0.4],[-1.11,0.17],[0,0.1],[1.18,0.17],[2.06,0.12],[2.85,0.17],[3.20,0.69],[3.46,0.4],[3.72,0.17],[4,0.29]];
const ptFeTeDn = [[-8,0],[-7.17,0],[-6.86,-0.9],[-6.64,-0.19],[-6.11,-0.07],[-5.85,-0.31],[-5.59,-1.26],[-5.41,-0.67],[-4.97,-0.43],[-4.71,-0.26],[-4.45,-0.12],[-4.27,-0.26],[-4.01,-0.55],[-3.83,-1.02],[-3.72,-1.57],[-3.61,-1.02],[-3.39,-0.67],[-3.22,-0.26],[-2.78,-0.31],[-2.07,-0.43],[-1.46,-0.26],[-0.58,-0.07],[-0.32,-0.43],[-0.18,-1.74],[-0.10,-0.9],[0.04,-1.14],[0.17,-1.38],[0.30,-1.14],[0.65,-1.07],[0.83,-1.14],[1.0,-0.55],[1.18,-0.67],[1.53,-0.31],[2.06,-0.36],[2.93,-0.12],[3.55,-0.43],[3.81,-0.79],[4,-0.36]];
const ptFeSbUp = [[-8,0],[-6.73,0],[-6.51,0.79],[-6.20,0.31],[-5.85,0.07],[-5.59,0.43],[-5.44,1.38],[-5.32,0.95],[-5.06,0.55],[-4.84,0.38],[-4.75,0.24],[-4.53,0.55],[-4.40,1.14],[-4.34,1.33],[-4.29,1.02],[-4.16,1.62],[-4.09,1.33],[-4.01,1.5],[-3.87,0.79],[-3.74,0.43],[-3.52,0.19],[-3.36,1.74],[-3.22,0.79],[-3.04,1.02],[-2.86,0.43],[-2.64,0.9],[-2.51,0.79],[-2.34,1.67],[-2.21,1.38],[-2.07,0.31],[-1.46,0.24],[0,0.14],[2.06,0.07],[2.58,0.36],[2.93,0.07],[4,0.12]];
const ptFeSbDn = [[-8,0],[-6.73,0],[-6.47,-0.29],[-6.20,-0.81],[-5.94,-0.29],[-5.41,-0.4],[-5.24,-0.76],[-5.09,-1.52],[-4.88,-0.76],[-4.62,-0.48],[-4.45,-0.4],[-4.27,-0.52],[-4.01,-0.64],[-3.83,-1.0],[-3.70,-2.0],[-3.57,-0.52],[-3.39,-0.76],[-3.22,-0.4],[-3.04,-0.24],[-2.34,-0.24],[-1.90,-0.4],[-1.72,-0.57],[-1.19,-0.52],[-0.93,-0.17],[-0.32,-0.17],[-0.18,-0.76],[-0.10,-1.36],[0.04,-0.88],[0.12,-1.12],[0.21,-2.14],[0.30,-1.24],[0.47,-1.0],[0.74,-0.76],[0.91,-0.4],[1.62,-0.24],[2.49,-0.17],[2.93,-0.24],[3.11,-0.4],[3.37,-0.29],[4,-0.05]];
const ptFeSnUp = [[-8,0.43],[-7.87,0.29],[-7.80,0],[-5.85,0],[-5.69,0.83],[-5.50,0.6],[-5.24,0.12],[-4.97,0.05],[-4.82,1.62],[-4.71,1.19],[-4.45,0.95],[-4.27,0.48],[-4.14,1.95],[-4.01,1.31],[-3.87,1.43],[-3.74,1.55],[-3.61,0.36],[-3.48,0.24],[-3.30,1.43],[-3.17,0.95],[-3.0,1.48],[-2.86,0.24],[-2.69,0.48],[-2.51,1.55],[-2.42,1.19],[-2.34,1.9],[-2.21,0.48],[-2.12,0.67],[-2.03,0.24],[-1.46,0.19],[0,0.19],[1.18,0.12],[3.37,0.24],[4,0.12]];
const ptFeSnDn = [[-8,-0.24],[-7.87,-0.29],[-7.80,0],[-5.85,0],[-5.59,-0.36],[-5.37,-0.83],[-5.15,-0.36],[-4.97,-0.12],[-4.62,-0.12],[-4.40,-1.71],[-4.27,-1.07],[-4.09,-0.71],[-3.83,-0.6],[-3.65,-0.83],[-3.52,-1.19],[-3.43,-1.55],[-3.37,-1.9],[-3.26,-1.19],[-3.13,-0.48],[-2.86,-0.36],[-2.34,-0.24],[-1.46,-0.36],[-1.19,-0.71],[-1.11,-1.07],[-0.89,-0.9],[-0.67,-0.12],[-0.14,-0.07],[-0.05,-0.71],[0.04,-1.55],[0.12,-1.71],[0.21,-1.62],[0.30,-2.98],[0.39,-1.19],[0.56,-0.67],[0.74,-0.52],[1.18,-0.43],[2.06,-0.29],[3.72,-0.19],[4,-0.31]];
const ptFeInUp = [[-8,0],[-6.73,0.07],[-6.16,0.19],[-6.10,0.36],[-5.98,0],[-5.06,0],[-4.93,0.43],[-4.78,1.02],[-4.62,0.67],[-4.36,0.19],[-4.20,1.31],[-4.01,1.02],[-3.74,0.9],[-3.65,0.79],[-3.57,2.26],[-3.43,1.14],[-3.22,1.02],[-3.13,1.69],[-3.04,0.9],[-2.86,0.31],[-2.69,0.67],[-2.60,1.26],[-2.47,0.9],[-2.35,1.62],[-2.25,0.43],[-2.07,0.55],[-1.90,1.02],[-1.81,1.26],[-1.70,2.57],[-1.59,0.43],[-1.41,0.43],[-1.28,0.31],[0,0.19],[4,0.07]];
const ptFeInDn = [[-8,-0.05],[-6.73,-0.07],[-6.03,-0.21],[-5.94,0],[-5.06,0],[-4.80,-0.21],[-4.55,-1.0],[-4.40,-0.4],[-4.09,-0.21],[-3.81,-1.83],[-3.65,-0.88],[-3.39,-0.52],[-3.22,-0.4],[-3.13,-0.88],[-3.02,-1.88],[-2.88,-0.88],[-2.78,-0.29],[-2.34,-0.12],[-0.58,-0.12],[-0.40,-0.4],[-0.33,-2.43],[-0.23,-0.12],[0.30,-0.05],[0.39,-0.36],[0.52,-1.83],[0.61,-1.71],[0.69,-1.83],[0.81,-2.07],[0.91,-0.64],[1.09,-0.52],[1.35,-0.21],[2.06,-0.12],[4,-0.05]];

const ptFeSeUp = [[-8,0],[-7.26,0],[-7.10,1.02],[-6.91,0.36],[-6.73,0.12],[-6.38,0],[-6.11,0.36],[-6.01,1.43],[-5.89,1.07],[-5.68,0.83],[-5.41,0.36],[-4.97,0],[-4.71,0.36],[-4.58,0.71],[-4.45,1.07],[-4.36,1.55],[-4.27,1.19],[-4.20,2.38],[-4.09,1.43],[-3.92,0.48],[-3.74,0.71],[-3.57,1.07],[-3.39,0.6],[-3.30,0.95],[-3.13,0.48],[-2.95,0.83],[-2.69,0.71],[-2.51,0.95],[-2.38,1.55],[-2.25,0.95],[-2.07,0.6],[-1.72,0.83],[-1.46,0.48],[-1.02,0.36],[0,0.24],[1.18,0.12],[2.93,0],[3.11,0.36],[3.31,1.07],[3.46,0.48],[3.72,0.24],[4,0]];
const ptFeSeDn = [[-8,0],[-7.26,0],[-6.95,-0.95],[-6.73,-0.36],[-6.38,-0.12],[-5.85,-0.48],[-5.63,-1.31],[-5.46,-0.71],[-5.15,-0.48],[-4.80,-0.19],[-4.45,-0.12],[-4.09,-0.29],[-3.92,-0.71],[-3.74,-1.07],[-3.57,-1.79],[-3.46,-1.19],[-3.30,-0.95],[-3.22,-0.71],[-2.78,-0.6],[-2.34,-0.67],[-1.90,-0.48],[-1.02,-0.29],[-0.58,-0.24],[-0.32,-0.83],[-0.23,-1.79],[-0.10,-0.67],[0.04,-0.83],[0.21,-1.55],[0.30,-1.86],[0.43,-1.31],[0.56,-1.07],[0.65,-1.95],[0.78,-1.19],[1.0,-0.83],[1.18,-0.43],[2.06,-0.24],[3.64,-0.24],[3.81,-1.07],[4,-0.48]];
const ptFeAsUp = [[-8,0],[-7.04,0],[-6.82,0.95],[-6.55,0.48],[-6.20,0.12],[-5.94,0.36],[-5.81,1.67],[-5.68,1.0],[-5.41,0.71],[-5.15,0.48],[-4.97,0.12],[-4.75,0.6],[-4.58,1.83],[-4.46,0.95],[-4.34,1.79],[-4.18,1.07],[-4.09,0.6],[-3.83,0.36],[-3.65,0.48],[-3.57,1.55],[-3.43,0.71],[-3.26,0.83],[-3.13,0.95],[-2.95,0.6],[-2.78,0.83],[-2.60,0.95],[-2.51,0.71],[-2.42,1.19],[-2.34,1.07],[-2.25,1.6],[-2.07,0.6],[-1.90,0.29],[-1.46,0.43],[-0.93,0.43],[-0.84,0.48],[-0.67,0.24],[0,0.19],[2.06,0.31],[2.93,0.24],[4,0]];
const ptFeAsDn = [[-8,0],[-7.04,0],[-6.77,-0.48],[-6.54,-0.9],[-6.29,-0.48],[-6.03,-0.19],[-5.68,-0.48],[-5.50,-0.95],[-5.43,-1.43],[-5.32,-0.71],[-5.24,-0.36],[-4.71,-0.19],[-4.58,-0.12],[-4.36,-0.36],[-4.18,-0.6],[-3.92,-1.07],[-3.79,-1.74],[-3.67,-0.95],[-3.57,-1.19],[-3.43,-0.48],[-3.22,-0.24],[-2.34,-0.24],[-1.81,-0.6],[-1.46,-0.24],[-0.93,-0.12],[-0.32,-0.12],[-0.18,-0.83],[-0.14,-1.38],[-0.05,-0.95],[0.02,-0.67],[0.12,-1.07],[0.25,-1.55],[0.34,-1.9],[0.47,-1.43],[0.65,-0.83],[0.91,-0.36],[1.62,-0.19],[2.49,-0.19],[3.37,-0.05],[4,0]];
const ptFeGeUp = [[-8,0],[-6.47,0],[-6.22,0.9],[-6.03,0.5],[-5.68,0.19],[-5.54,0.5],[-5.44,1.45],[-5.32,0.98],[-5.06,0.74],[-4.80,0.43],[-4.58,0.14],[-4.49,0.62],[-4.38,2.52],[-4.27,1.57],[-4.16,1.81],[-4.05,0.98],[-3.96,1.38],[-3.83,0.26],[-3.65,0.26],[-3.55,2.05],[-3.43,1.1],[-3.30,1.29],[-3.13,0.86],[-2.86,0.5],[-2.73,1.1],[-2.60,1.05],[-2.47,1.62],[-2.34,1.1],[-2.21,0.62],[-2.12,0.79],[-2.03,0.33],[-1.90,0.26],[-1.46,0.19],[0,0.26],[2.06,0.14],[2.93,0.19],[4,0.1]];
const ptFeGeDn = [[-8,0],[-6.47,0],[-6.16,-0.45],[-5.89,-1.05],[-5.68,-0.57],[-5.24,-0.33],[-5.06,-0.81],[-4.90,-1.81],[-4.75,-1.05],[-4.45,-0.57],[-4.09,-0.21],[-3.92,-0.33],[-3.74,-0.57],[-3.65,-0.45],[-3.48,-0.93],[-3.35,-1.76],[-3.22,-0.81],[-3.08,-1.05],[-2.91,-0.45],[-2.69,-0.21],[-1.90,-0.21],[-1.46,-0.33],[-1.28,-0.93],[-1.11,-0.69],[-0.84,-0.21],[-0.14,-0.1],[-0.05,-0.33],[0.04,-1.29],[0.17,-0.57],[0.30,-1.05],[0.43,-1.52],[0.54,-2.36],[0.69,-1.17],[0.91,-0.57],[1.62,-0.33],[2.49,-0.21],[4,-0.21]];
const ptFeGaUp = [[-8,0],[-7.17,0.12],[-7.06,0.31],[-7.01,0.5],[-6.92,0],[-5.68,0],[-5.50,0.31],[-5.31,1.07],[-5.15,0.67],[-4.97,0.31],[-4.78,1.38],[-4.62,1.14],[-4.45,1.14],[-4.31,0.9],[-4.18,0.67],[-4.09,0.67],[-3.99,2.38],[-3.87,1.02],[-3.65,0.9],[-3.48,0.79],[-3.35,1.5],[-3.22,0.55],[-3.04,0.31],[-2.86,0.74],[-2.73,1.26],[-2.60,0.83],[-2.47,1.55],[-2.34,0.55],[-2.16,0.31],[-1.90,0.9],[-1.77,1.26],[-1.65,2.33],[-1.55,0.31],[-1.41,0.55],[-1.28,0.19],[0,0.19],[2.06,0.07],[4,0]];
const ptFeGaDn = [[-8,-0.12],[-6.99,-0.17],[-6.89,-0.31],[-6.82,0],[-5.68,0],[-5.24,-0.4],[-5.06,-1.12],[-4.88,-0.64],[-4.62,-0.4],[-4.49,-0.88],[-4.38,-1.88],[-4.23,-1.12],[-4.01,-0.76],[-3.74,-0.64],[-3.57,-1.36],[-3.46,-1.6],[-3.39,-1.48],[-3.22,-0.52],[-2.78,-0.29],[-1.46,-0.36],[-0.76,-0.4],[-0.62,-1.36],[-0.55,-2.43],[-0.45,-0.88],[-0.32,-0.29],[0.30,-0.17],[0.43,-1.12],[0.54,-1.71],[0.61,-1.12],[0.69,-1.48],[0.76,-1.36],[0.83,-1.95],[0.96,-0.64],[1.18,-0.4],[2.06,-0.21],[4,-0.12]];

const ptFeSUp = [[-8,0],[-7.48,0],[-7.27,0.93],[-7.08,0.4],[-6.82,0.17],[-6.47,0.05],[-6.33,0.88],[-6.25,1.4],[-6.12,0.88],[-5.85,0.52],[-5.41,0.17],[-4.97,0.05],[-4.84,0.4],[-4.71,0.64],[-4.53,1.24],[-4.45,1.12],[-4.34,2.19],[-4.23,1.24],[-4.01,0.4],[-3.79,0.76],[-3.61,1.12],[-3.48,0.76],[-3.30,0.88],[-3.13,0.52],[-2.95,0.64],[-2.69,0.64],[-2.51,0.69],[-2.35,1.24],[-2.21,0.64],[-1.99,0.29],[-1.72,0.4],[-1.55,0.6],[-1.02,0.48],[0,0.17],[1.18,0.12],[3.02,0.05],[3.22,0.83],[3.37,0.4],[3.55,0.45],[3.81,0.17],[4,0]];
const ptFeSDn = [[-8,0],[-7.48,0],[-7.21,-0.43],[-6.99,-0.86],[-6.73,-0.43],[-6.38,-0.26],[-6.03,-0.55],[-5.89,-1.26],[-5.76,-0.79],[-5.50,-0.55],[-5.15,-0.43],[-4.80,-0.19],[-4.45,-0.12],[-4.27,-0.31],[-4.01,-0.43],[-3.74,-0.9],[-3.61,-1.38],[-3.48,-0.79],[-3.35,-0.9],[-3.22,-0.43],[-2.78,-0.31],[-2.34,-0.5],[-1.90,-0.36],[-1.02,-0.19],[-0.49,-0.26],[-0.32,-0.74],[-0.23,-0.9],[-0.10,-0.43],[0,-0.19],[0.12,-0.79],[0.30,-1.38],[0.47,-1.55],[0.65,-1.62],[0.83,-1.02],[1.0,-0.43],[1.62,-0.19],[2.93,-0.07],[3.64,-0.12],[3.81,-0.67],[4,-0.43]];
const ptFePUp = [[-8,0],[-7.48,0],[-7.21,0.71],[-6.99,0.48],[-6.73,0.12],[-6.42,0.17],[-6.31,1.43],[-6.20,0.83],[-5.85,0.48],[-5.50,0.17],[-5.32,0.05],[-5.15,0.48],[-4.93,1.19],[-4.80,0.6],[-4.62,1.19],[-4.49,0.71],[-4.43,1.02],[-4.31,0.36],[-4.09,0.17],[-3.83,0.24],[-3.64,1.19],[-3.48,0.6],[-3.30,0.83],[-3.13,0.31],[-2.95,0.6],[-2.69,0.52],[-2.51,0.83],[-2.42,0.71],[-2.27,1.26],[-2.12,0.6],[-1.99,0.17],[-1.46,0.31],[-0.58,0.31],[0,0.17],[2.06,0.12],[2.93,0.07],[4,0]];
const ptFePDn = [[-8,0],[-7.48,0],[-7.17,-0.31],[-6.91,-0.83],[-6.64,-0.4],[-6.20,-0.17],[-5.98,-0.6],[-5.89,-1.55],[-5.76,-0.83],[-5.50,-0.48],[-5.15,-0.4],[-4.88,-0.17],[-4.62,-0.31],[-4.36,-0.6],[-4.09,-1.26],[-3.96,-0.71],[-3.83,-0.36],[-3.65,-0.6],[-3.57,-0.4],[-3.39,-0.31],[-2.78,-0.31],[-2.07,-0.4],[-1.94,-0.64],[-1.72,-0.4],[-1.02,-0.24],[-0.32,-0.4],[-0.16,-1.07],[-0.07,-0.6],[0.08,-0.83],[0.21,-1.31],[0.39,-1.6],[0.56,-1.31],[0.74,-0.71],[1.18,-0.31],[2.06,-0.17],[2.93,-0.12],[4,0]];
const ptFeSiUp = [[-8,0],[-6.99,0],[-6.82,0.19],[-6.57,0.86],[-6.38,0.43],[-6.03,0.19],[-5.94,0.55],[-5.85,1.43],[-5.68,0.9],[-5.50,0.9],[-5.32,0.67],[-5.19,0.19],[-5.06,0.67],[-4.87,1.62],[-4.73,0.79],[-4.53,0.79],[-4.36,0.43],[-4.18,0.9],[-4.05,0.43],[-3.83,0.19],[-3.57,0.67],[-3.39,1.67],[-3.26,0.79],[-3.04,1.26],[-2.86,0.24],[-2.69,0.43],[-2.47,0.9],[-2.34,0.67],[-2.21,1.14],[-2.12,1.1],[-2.03,1.38],[-1.90,0.31],[-1.46,0.24],[0,0.19],[1.18,0.19],[3.72,0.24],[3.90,0.38],[4,0.31]];
const ptFeSiDn = [[-8,0],[-6.99,0],[-6.73,-0.29],[-6.29,-0.95],[-6.11,-0.4],[-5.85,-0.17],[-5.68,-0.4],[-5.50,-1.83],[-5.37,-1.0],[-5.15,-0.64],[-4.97,-0.4],[-4.71,-0.29],[-4.49,-0.88],[-4.36,-0.64],[-4.23,-1.0],[-4.14,-1.0],[-4.01,-0.52],[-3.74,-0.29],[-3.22,-0.17],[-2.34,-0.17],[-1.63,-0.29],[-1.46,-0.52],[-1.37,-1.12],[-1.19,-0.88],[-1.06,-0.29],[-0.23,-0.17],[-0.10,-0.64],[0,-0.76],[0.12,-0.52],[0.25,-1.12],[0.34,-0.95],[0.46,-1.76],[0.56,-0.76],[0.83,-0.4],[1.62,-0.29],[2.93,-0.17],[4,-0.17]];
const ptFeAlUp = [[-8,0.05],[-6.55,0.12],[-6.42,0.29],[-6.36,0.36],[-6.29,0],[-5.76,0],[-5.59,0.29],[-5.37,0.83],[-5.24,0.48],[-5.09,0.24],[-4.97,1.31],[-4.80,1.19],[-4.62,0.95],[-4.49,0.6],[-4.40,0.71],[-4.27,1.86],[-4.14,0.83],[-3.92,0.6],[-3.74,0.43],[-3.57,0.95],[-3.50,1.07],[-3.35,0.48],[-3.22,0.24],[-3.04,0.6],[-2.91,1.07],[-2.73,0.6],[-2.58,1.26],[-2.42,0.36],[-2.34,0.29],[-2.16,0.6],[-1.94,0.83],[-1.83,1.07],[-1.74,2.1],[-1.65,0.95],[-1.56,0.48],[-1.50,0.52],[-1.37,0.24],[0,0.12],[4,0.05]];
const ptFeAlDn = [[-8,-0.05],[-6.47,-0.12],[-6.29,-0.24],[-6.20,0],[-5.76,0],[-5.32,-0.36],[-5.09,-0.95],[-4.93,-0.36],[-4.71,-0.24],[-4.55,-1.9],[-4.40,-0.95],[-4.18,-0.83],[-4.01,-0.71],[-3.83,-1.31],[-3.74,-0.95],[-3.65,-1.07],[-3.52,-0.71],[-3.30,-0.29],[-2.78,-0.19],[-1.46,-0.24],[-0.80,-0.12],[-0.71,-1.19],[-0.64,-2.38],[-0.54,-0.71],[-0.36,-0.12],[0,0],[0.21,-0.36],[0.30,-0.95],[0.43,-1.19],[0.52,-1.07],[0.61,-1.43],[0.72,-1.71],[0.83,-0.71],[1.0,-0.48],[1.62,-0.24],[4,-0.05]];

// axis values
const energyDomain = [-8, 4];
const energyTicks = [-8, -7, -6, -5, -4, -3, -2, -1, 0, 1, 2, 3, 4];
const energyLabels = [-8, -6, -4, -2, 0, 2, 4];
const dashedCompounds = ['PtCrIn', 'PtCrSe', 'PtCrS', 'PtMnS', 'PtFeTe', 'PtFeSe', 'PtFeS'];

// one row per panel, four curves each: [label, spin up, spin down]
const crRows = [
    [['PtCrTe', ptCrTeUp, ptCrTeDn], ['PtCrSb', ptCrSbUp, ptCrSbDn], ['PtCrSn', ptCrSnUp, ptCrSnDn], ['PtCrIn', ptCrInUp, ptCrInDn]],
    [['PtCrSe', ptCrSeUp, ptCrSeDn], ['PtCrAs', ptCrAsUp, ptCrAsDn], ['PtCrGe', ptCrGeUp, ptCrGeDn], ['PtCrGa', ptCrGaUp, ptCrGaDn]],
    [['PtCrS', ptCrSUp, ptCrSDn], ['PtCrP', ptCrPUp, ptCrPDn], ['PtCrSi', ptCrSiUp, ptCrSiDn], ['PtCrAl', ptCrAlUp, ptCrAlDn]]
];
const mnRows = [
    [['PtMnTe', ptMnTeUp, ptMnTeDn], ['PtMnSb', ptMnSbUp, ptMnSbDn], ['PtMnSn', ptMnSnUp, ptMnSnDn], ['PtMnIn', ptMnInUp, ptMnInDn]],
    [['PtMnSe', ptMnSeUp, ptMnSeDn], ['PtMnAs', ptMnAsUp, ptMnAsDn], ['PtMnGe', ptMnGeUp, ptMnGeDn], ['PtMnGa', ptMnGaUp, ptMnGaDn]],
    [['PtMnS', ptMnSUp, ptMnSDn], ['PtMnP', ptMnPUp, ptMnPDn], ['PtMnSi', ptMnSiUp, ptMnSiDn], ['PtMnAl', ptMnAlUp, ptMnAlDn]]
];
const feRows = [
    [['PtFeTe', ptFeTeUp, ptFeTeDn], ['PtFeSb', ptFeSbUp, ptFeSbDn], ['PtFeSn', ptFeSnUp, ptFeSnDn], ['PtFeIn', ptFeInUp, ptFeInDn]],
    [['PtFeSe', ptFeSeUp, ptFeSeDn], ['PtFeAs', ptFeAsUp, ptFeAsDn], ['PtFeGe', ptFeGeUp, ptFeGeDn], ['PtFeGa', ptFeGaUp, ptFeGaDn]],
    [['PtFeS', ptFeSUp, ptFeSDn], ['PtFeP', ptFePUp, ptFePDn], ['PtFeSi', ptFeSiUp, ptFeSiDn], ['PtFeAl', ptFeAlUp, ptFeAlDn]]
];

// ---- layout / style ----
const seriesColors = ['#1ee61e', '#1010c8', '#f01414', '#000000'];

const columnLayouts = [
    {
        rows: crRows, frameX: [91, 561], axisX: [92, 559],
        panelsY: [[28, 268], [277, 517], [524, 763]],
        offsets: [[14.59, 10.62, 6.66, 2.62], [14.38, 10.98, 7.72, 4.39], [14.08, 10.46, 6.83, 3.2]],
        legends: [[[9, 14], [12, 66], [9, 116], [6, 181]], [[1, 16], [2, 64], [4, 106], [6, 155]], [[4, 14], [8, 64], [6, 117], [8, 170]]],
        solidZero: [false, true, false],
        yLabel: 'DOS (States/ev f.u.)', yLabelPos: [81, 402], titleY: 808
    },
    {
        rows: mnRows, frameX: [694, 1147], axisX: [698, 1144],
        panelsY: [[26, 268], [274, 518], [524, 770]],
        offsets: [[14.4, 10.53, 6.6, 2.67], [14.15, 10.1, 6.13, 2.09], [13.89, 9.88, 6.15, 2.35]],
        legends: [[[9, 15], [11, 62], [8, 121], [9, 178]], [[15, 18], [9, 65], [12, 125], [11, 183]], [[13, 19], [10, 75], [10, 129], [13, 184]]],
        solidZero: [false, false, false],
        yLabel: 'DOS (States/ eV f.u.)', yLabelPos: [683, 401], titleY: 813
    },
    {
        rows: feRows, frameX: [1300, 1759], axisX: [1302, 1757],
        panelsY: [[28, 273], [278, 525], [529, 773]],
        offsets: [[13.95, 10.2, 6.45, 2.7], [14.3, 10.46, 6.6, 2.82], [14.2, 10.5, 6.55, 2.5]],
        legends: [[[3, 15], [3, 66], [3, 118], [0, 179]], [[10, 13], [8, 63], [5, 119], [1, 179]], [[-2, 13], [-2, 65], [-2, 119], [-2, 183]]],
        solidZero: [false, false, false],
        yLabel: 'DOS (States/ eV f.u.)', yLabelPos: [1282, 400], titleY: 818
    }
];

class DosFigure {
    constructor(containerId) {
        this.width = 1850;
        this.height = 845;
        this.svg = d3.select(`#${containerId}`)
            .append('svg')
            .attr('width', this.width)
            .attr('height', this.height);
    }

    render() {
        columnLayouts.forEach((layout, ci) => this.drawColumn(layout, ci));
    }

    drawColumn(layout, ci) {
        const x = d3.scaleLinear().domain(energyDomain).range(layout.axisX);

        layout.rows.forEach((row, pi) => {
            const [top, bottom] = layout.panelsY[pi];
            const y = d3.scaleLinear().domain([0, 17]).range([bottom, top]);
            this.drawPanel(layout, ci, pi, row, x, y, top, bottom);
        });

        // tick labels under the bottom panel
        const lastBottom = layout.panelsY[2][1];
        const labels = this.svg.append('g')
            .attr('transform', `translate(0,${lastBottom})`)
            .call(d3.axisBottom(x).tickValues(energyLabels).tickSize(0).tickPadding(7).tickFormat(d => String(d)));
        labels.select('.domain').remove();
        labels.attr('font-size', 19).attr('font-family', 'Arial, "Liberation Sans", sans-serif');

        const mid = (layout.axisX[0] + layout.axisX[1]) / 2;
        this.svg.append('text')
            .attr('x', mid)
            .attr('y', layout.titleY)
            .attr('text-anchor', 'middle')
            .style('font-size', '21px')
            .text('Binding Energy (eV)');

        this.svg.append('text')
            .attr('transform', `translate(${layout.yLabelPos[0]},${layout.yLabelPos[1]}) rotate(-90)`)
            .attr('text-anchor', 'middle')
            .style('font-size', '22.5px')
            .text(layout.yLabel);
    }

    drawPanel(layout, ci, pi, row, x, y, top, bottom) {
        const [left, right] = layout.frameX;
        const g = this.svg.append('g');
        const clipId = `clip-${ci}-${pi}`;

        g.append('clipPath').attr('id', clipId)
            .append('rect')
            .attr('x', left).attr('y', top)
            .attr('width', right - left).attr('height', bottom - top);

        const plot = g.append('g').attr('clip-path', `url(#${clipId})`);
        const offsets = layout.offsets[pi];

        // dotted zero lines for each curve
        plot.selectAll('.base')
            .data(offsets)
            .enter()
            .append('line')
            .attr('x1', left).attr('x2', right)
            .attr('y1', d => y(d)).attr('y2', d => y(d))
            .style('stroke', '#000')
            .style('stroke-width', 1)
            .style('stroke-dasharray', '1.2,1.8');

        // Fermi level
        plot.append('line')
            .attr('x1', x(0)).attr('x2', x(0))
            .attr('y1', top).attr('y2', bottom)
            .style('stroke', '#000')
            .style('stroke-width', layout.solidZero[pi] ? 1.6 : 1.2)
            .style('stroke-dasharray', layout.solidZero[pi] ? null : '1.5,2');

        row.forEach(([label, up, dn], si) => {
            const off = offsets[si];
            const line = d3.line()
                .x(d => x(d[0]))
                .y(d => y(off + d[1]));
            const dashed = dashedCompounds.includes(label);

            [up, dn].forEach(spin => {
                plot.append('path')
                    .datum(spin)
                    .attr('d', line)
                    .style('fill', 'none')
                    .style('stroke', seriesColors[si])
                    .style('stroke-width', 1.7)
                    .style('stroke-linejoin', 'round')
                    .style('stroke-dasharray', dashed ? '6,4' : null);
            });

            // legend entry
            const [lx, ly] = layout.legends[pi][si];
            g.append('line')
                .attr('x1', left + lx).attr('x2', left + lx + 31)
                .attr('y1', top + ly).attr('y2', top + ly)
                .style('stroke', seriesColors[si])
                .style('stroke-width', 1.7)
                .style('stroke-dasharray', dashed ? '6,4' : null);
            g.append('text')
                .attr('x', left + lx + 38)
                .attr('y', top + ly)
                .attr('dy', '0.35em')
                .style('font-size', '17px')
                .text(label);
        });

        // frame
        g.append('rect')
            .attr('x', left).attr('y', top)
            .attr('width', right - left).attr('height', bottom - top)
            .style('fill', 'none')
            .style('stroke', '#222')
            .style('stroke-width', 2);

        // inward ticks, top and bottom
        const topTicks = g.append('g')
            .attr('transform', `translate(0,${top})`)
            .call(d3.axisBottom(x).tickValues(energyTicks).tickSize(6).tickFormat(''));
        const bottomTicks = g.append('g')
            .attr('transform', `translate(0,${bottom})`)
            .call(d3.axisTop(x).tickValues(energyTicks).tickSize(6).tickFormat(''));
        [topTicks, bottomTicks].forEach(a => {
            a.select('.domain').remove();
            a.selectAll('line').style('stroke', '#222').style('stroke-width', 1.5);
        });
    }
}

const figure = new DosFigure('chart');
figure.render();
</script>
</body>
</html>
